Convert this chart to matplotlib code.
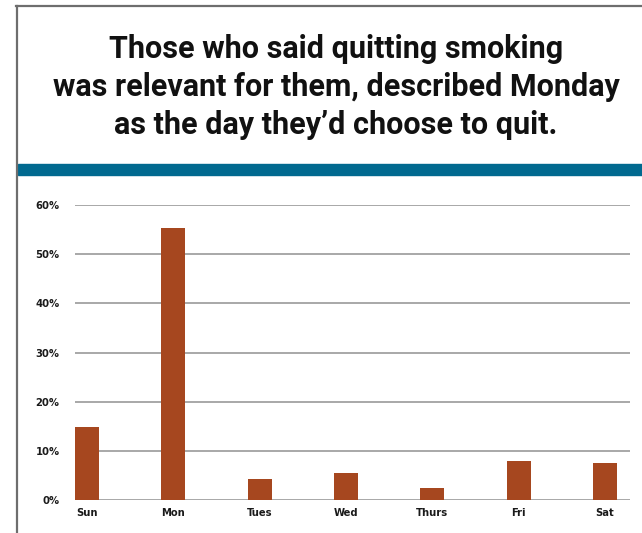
import matplotlib
matplotlib.use('Agg')
import matplotlib.pyplot as plt
from matplotlib.lines import Line2D
from matplotlib.patches import Rectangle

days = ['Sun', 'Mon', 'Tues', 'Wed', 'Thurs', 'Fri', 'Sat']
share = [14.9, 55.4, 4.3, 5.5, 2.4, 7.9, 7.5]
yticks = [0, 10, 20, 30, 40, 50, 60]
title = ('Those who said quitting smoking\n'
         'was relevant for them, described Monday\n'
         'as the day they\u2019d choose to quit.')

W, H = 642, 533
fig = plt.figure(figsize=(W / 100, H / 100), dpi=100)
fig.patch.set_facecolor('white')

# frame lines and blue band
fig.add_artist(Line2D([17 / W, 17 / W], [0, 1 - 6 / H], color='#6e6e6e', lw=1.6))
fig.add_artist(Line2D([16 / W, 1], [1 - 6 / H, 1 - 6 / H], color='#6e6e6e', lw=1.6))
fig.add_artist(Rectangle((18 / W, 1 - 175 / H), 1 - 18 / W, 11 / H,
                         color='#00698f', transform=fig.transFigure))

fig.text(336 / W, 1 - 87 / H, title, ha='center', va='center',
         fontsize=22, fontweight='bold', family='Roboto', linespacing=1.33,
         color='#111111')

ax = fig.add_axes([75 / W, 1 - 500 / H, 555 / W, 295 / H])
x = list(range(len(days)))
ax.bar(x, share, width=0.28, color='#a6471f', zorder=3)
ax.set_ylim(0, 60)
ax.set_xlim(-0.14, 6.29)
ax.set_yticks(yticks)
ax.set_yticklabels([f'{t}%' for t in yticks])
ax.set_xticks(x)
ax.set_xticklabels(days)
ax.yaxis.grid(True, color='#a8a8a8', lw=1.4, zorder=0)
ax.set_axisbelow(True)
for s in ax.spines.values():
    s.set_visible(False)
ax.tick_params(length=0)
ax.tick_params(axis='y', pad=11)
ax.tick_params(axis='x', pad=6)
for lab in ax.get_xticklabels() + ax.get_yticklabels():
    lab.set_fontfamily('DejaVu Sans')
    lab.set_fontstretch('condensed')
    lab.set_fontweight('bold')
    lab.set_fontsize(8)
    lab.set_color('#1a1a1a')

fig.savefig('out.png', dpi=100)
